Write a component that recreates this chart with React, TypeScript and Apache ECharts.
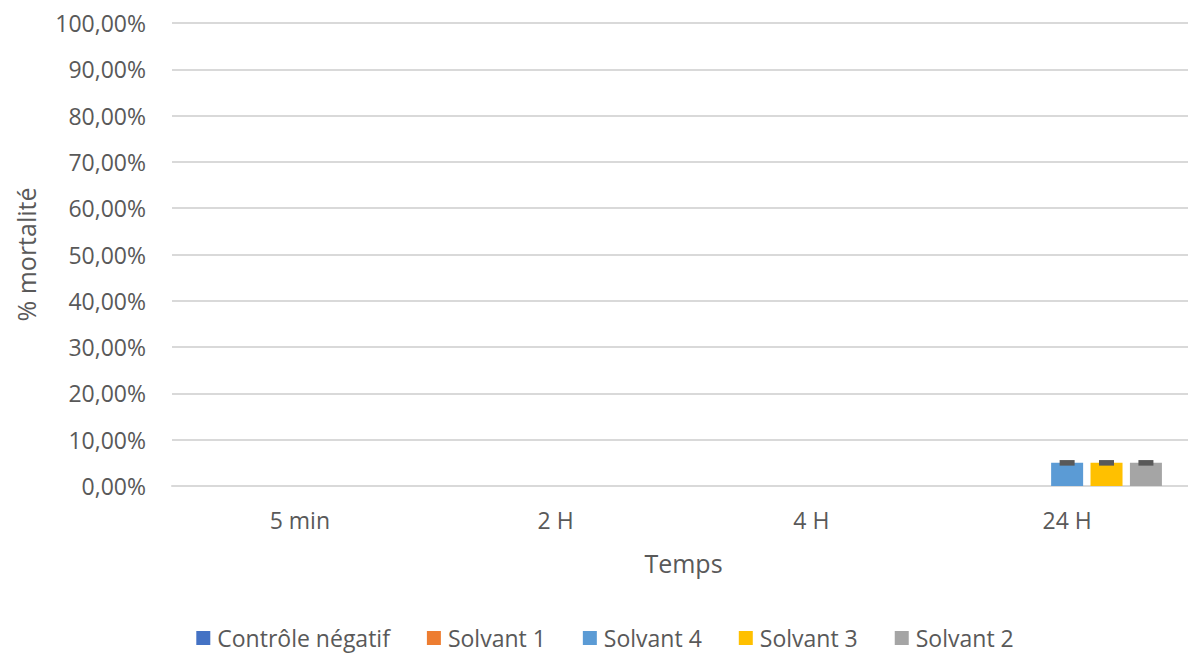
import React, { useEffect, useRef } from "react";
import * as echarts from "echarts";

// Time points and mortality (fraction) per treatment
const categories = ["5 min", "2 H", "4 H", "24 H"];
const seriesNames = ["Contrôle négatif", "Solvant 1", "Solvant 4", "Solvant 3", "Solvant 2"];
const controleNegatif = [0, 0, 0, 0];
const solvant1 = [0, 0, 0, 0];
const solvant4 = [0, 0, 0, 0.05];
const solvant3 = [0, 0, 0, 0.05];
const solvant2 = [0, 0, 0, 0.05];
// Error (±) shown only on the non-zero bars
const errSolvant4 = [0, 0, 0, 0.006];
const errSolvant3 = [0, 0, 0, 0.006];
const errSolvant2 = [0, 0, 0, 0.006];

const colors = ["#4472C4", "#ED7D31", "#5B9BD5", "#FFC000", "#A5A5A5"];
const yTicks = { min: 0, max: 1, interval: 0.1 };

const BAR_W = 32;
const BAR_GAP = 7.4;
const FONT = "'Open Sans', sans-serif";
const TEXT = "#595959";

export default function App() {
  const ref = useRef<HTMLDivElement>(null);

  useEffect(() => {
    if (!ref.current) return;
    const chart = echarts.init(ref.current, null, { renderer: "svg" });

    const values = [controleNegatif, solvant1, solvant4, solvant3, solvant2];
    const errs: { slot: number; arr: number[] }[] = [
      { slot: 2, arr: errSolvant4 },
      { slot: 3, arr: errSolvant3 },
      { slot: 4, arr: errSolvant2 },
    ];
    const errData: number[][] = [];
    errs.forEach(({ slot, arr }) => {
      arr.forEach((e, i) => {
        if (e > 0) errData.push([i, values[slot][i], e, slot]);
      });
    });

    const barSeries = seriesNames.map((name, k) => ({
      name,
      type: "bar",
      data: values[k],
      barWidth: BAR_W,
      barGap: `${(BAR_GAP / BAR_W) * 100}%`,
      itemStyle: { color: colors[k] },
    }));

    chart.setOption({
      animation: false,
      textStyle: { fontFamily: FONT },
      grid: { left: 172, right: 15, top: 23, bottom: 170, containLabel: false },
      legend: {
        data: seriesNames,
        top: 626,
        left: "center",
        padding: 0,
        itemWidth: 14,
        itemHeight: 14,
        itemGap: 37,
        icon: "rect",
        textStyle: { fontFamily: FONT, fontSize: 23, lineHeight: 24, color: TEXT, padding: [0, 0, 0, 2] },
      },
      xAxis: {
        type: "category",
        data: categories,
        name: "Temps",
        nameLocation: "middle",
        nameGap: 64,
        nameTextStyle: { fontFamily: FONT, fontSize: 25, color: TEXT },
        axisLine: { lineStyle: { color: "#d9d9d9", width: 2 } },
        axisTick: { show: false },
        axisLabel: { fontFamily: FONT, fontSize: 23, color: TEXT, margin: 22 },
      },
      yAxis: {
        type: "value",
        min: yTicks.min,
        max: yTicks.max,
        interval: yTicks.interval,
        name: "% mortalité",
        nameLocation: "middle",
        nameGap: 134,
        nameTextStyle: { fontFamily: FONT, fontSize: 25, color: TEXT },
        axisLine: { show: false },
        axisTick: { show: false },
        splitLine: { lineStyle: { color: "#d9d9d9", width: 2 } },
        axisLabel: {
          fontFamily: FONT,
          fontSize: 23,
          color: TEXT,
          margin: 26,
          formatter: (v: number) => (v * 100).toFixed(2).replace(".", ",") + "%",
        },
      },
      series: [
        ...barSeries,
        {
          type: "custom",
          name: "err",
          data: errData,
          z: 5,
          renderItem: (params: any, api: any) => {
            const cat = api.value(0);
            const val = api.value(1);
            const e = api.value(2);
            const slot = api.value(3);
            const top = api.coord([cat, val + e]);
            const bottom = api.coord([cat, val - e]);
            const cx = top[0] + (slot - 2) * (BAR_W + BAR_GAP);
            return {
              type: "rect",
              shape: { x: cx - 7.5, y: top[1], width: 15, height: bottom[1] - top[1] },
              style: { fill: "#595959" },
            };
          },
        },
      ],
    });

    return () => chart.dispose();
  }, []);

  return (
    <div style={{ position: "fixed", left: 0, top: 0, width: 1188, height: 656, overflow: "hidden", background: "#fff" }}>
      <div ref={ref} style={{ width: 1210, height: 656 }} />
    </div>
  );
}
